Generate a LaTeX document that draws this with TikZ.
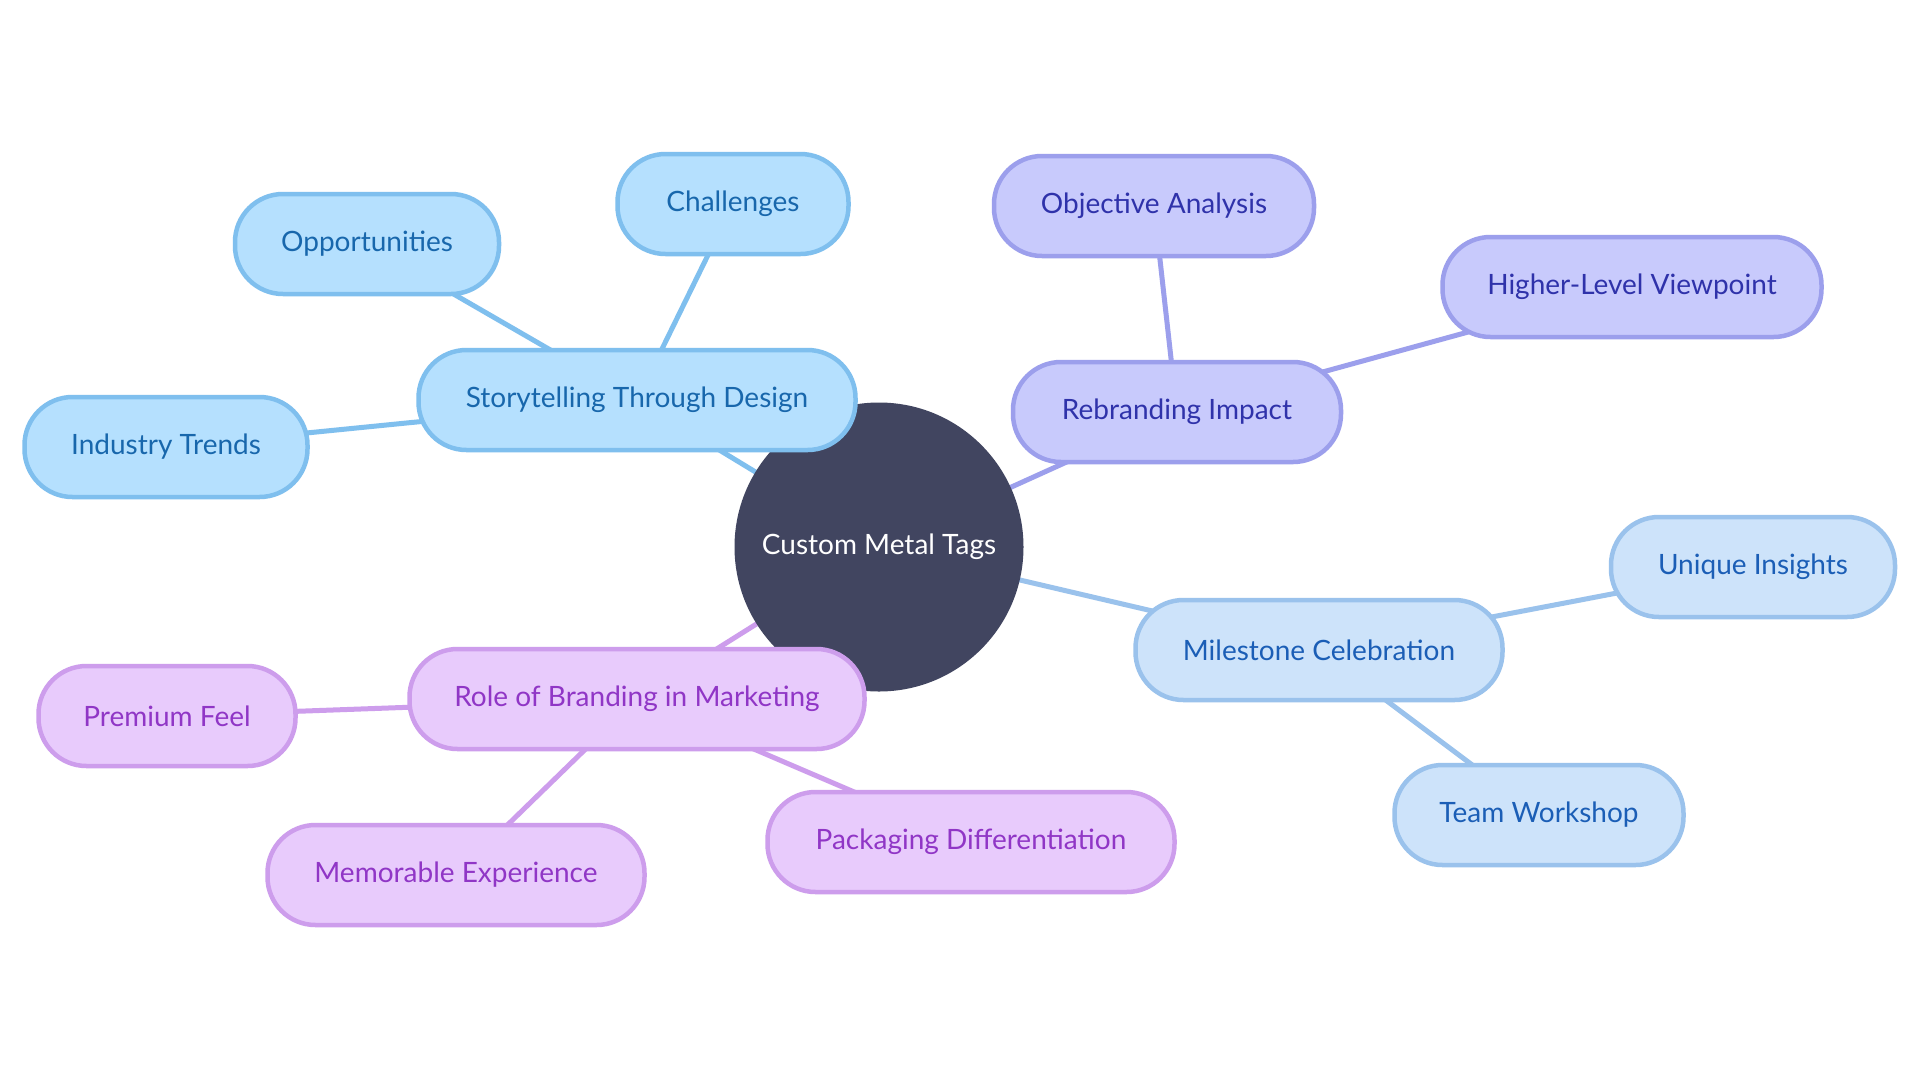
\documentclass[tikz,border=0pt]{standalone}
\usepackage{fontspec}
\setmainfont{Lato}
\begin{document}
\begin{tikzpicture}[x=1pt,y=-1pt,
  base/.style={rounded corners=48pt,line width=4.5pt,minimum height=100pt,inner xsep=4pt,font=\fontsize{28}{32}\selectfont},
  blu/.style={base,draw=cBstroke,fill=cBfill,text=cBtext},
  vio/.style={base,draw=cVstroke,fill=cVfill,text=cVtext},
  lbl/.style={base,draw=cLstroke,fill=cLfill,text=cLtext},
  pur/.style={base,draw=cPstroke,fill=cPfill,text=cPtext},
  eB/.style={draw=cBstroke,line width=5pt},
  eV/.style={draw=cVstroke,line width=5pt},
  eL/.style={draw=cLstroke,line width=5pt},
  eP/.style={draw=cPstroke,line width=5pt},
  rootn/.style={circle,fill=cRoot,minimum size=289pt,inner sep=0pt,text=white,font=\fontsize{28}{32}\selectfont}
]
\definecolor{cBfill}{HTML}{B5E0FE}
\definecolor{cBstroke}{HTML}{7FBFEE}
\definecolor{cBtext}{HTML}{1867AC}
\definecolor{cVfill}{HTML}{C8CAFC}
\definecolor{cVstroke}{HTML}{9C9FEC}
\definecolor{cVtext}{HTML}{2F32AA}
\definecolor{cLfill}{HTML}{CDE3FA}
\definecolor{cLstroke}{HTML}{9AC2EC}
\definecolor{cLtext}{HTML}{1B5EB6}
\definecolor{cPfill}{HTML}{E8CBFC}
\definecolor{cPstroke}{HTML}{CD9DEC}
\definecolor{cPtext}{HTML}{9036C6}
\definecolor{cRoot}{HTML}{414560}
\useasboundingbox[fill=white] (0,0) rectangle (1920,1080);

% coordinates for centers
\coordinate (pRoot) at (879,547);
\coordinate (pStory) at (637,400);
\coordinate (pOpp) at (367,244);
\coordinate (pChal) at (733,204);
\coordinate (pInd) at (166,447);
\coordinate (pObj) at (1154,206);
\coordinate (pHigh) at (1632,287);
\coordinate (pReb) at (1177,412);
\coordinate (pMile) at (1319,650);
\coordinate (pUniq) at (1753,567);
\coordinate (pTeam) at (1539,815);
\coordinate (pRole) at (637,699);
\coordinate (pPrem) at (167,716);
\coordinate (pMem) at (456,875);
\coordinate (pPack) at (971,842);

% edges (center to center, behind nodes)
\draw[eB] (pRoot) -- (pStory);
\draw[eB] (pStory) -- (pOpp);
\draw[eB] (pStory) -- (pChal);
\draw[eB] (pStory) -- (pInd);
\draw[eV] (pRoot) -- (pReb);
\draw[eV] (pReb) -- (pObj);
\draw[eV] (pReb) -- (pHigh);
\draw[eL] (pRoot) -- (pMile);
\draw[eL] (pMile) -- (pUniq);
\draw[eL] (pMile) -- (pTeam);
\draw[eP] (pRoot) -- (pRole);
\draw[eP] (pRole) -- (pPrem);
\draw[eP] (pRole) -- (pMem);
\draw[eP] (pRole) -- (pPack);

\node[rootn] (root) at (pRoot) {Custom Metal Tags};

\node[blu,minimum width=437pt] (story) at (pStory) {Storytelling Through Design};
\node[blu,minimum width=264pt] (opp) at (pOpp) {Opportunities};
\node[blu,minimum width=231pt] (chal) at (pChal) {Challenges};
\node[blu,minimum width=283pt] (ind) at (pInd) {Industry Trends};

\node[vio,minimum width=320pt] (obj) at (pObj) {Objective Analysis};
\node[vio,minimum width=379pt] (high) at (pHigh) {Higher-Level Viewpoint};
\node[vio,minimum width=328pt] (reb) at (pReb) {Rebranding Impact};

\node[lbl,minimum width=367pt] (mile) at (pMile) {Milestone Celebration};
\node[lbl,minimum width=284pt] (uniq) at (pUniq) {Unique Insights};
\node[lbl,minimum width=289pt] (team) at (pTeam) {Team Workshop};

\node[pur,minimum width=455pt] (role) at (pRole) {Role of Branding in Marketing};
\node[pur,minimum width=257pt] (prem) at (pPrem) {Premium Feel};
\node[pur,minimum width=377pt] (mem) at (pMem) {Memorable Experience};
\node[pur,minimum width=407pt] (pack) at (pPack) {Packaging Differentiation};
\end{tikzpicture}
\end{document}
